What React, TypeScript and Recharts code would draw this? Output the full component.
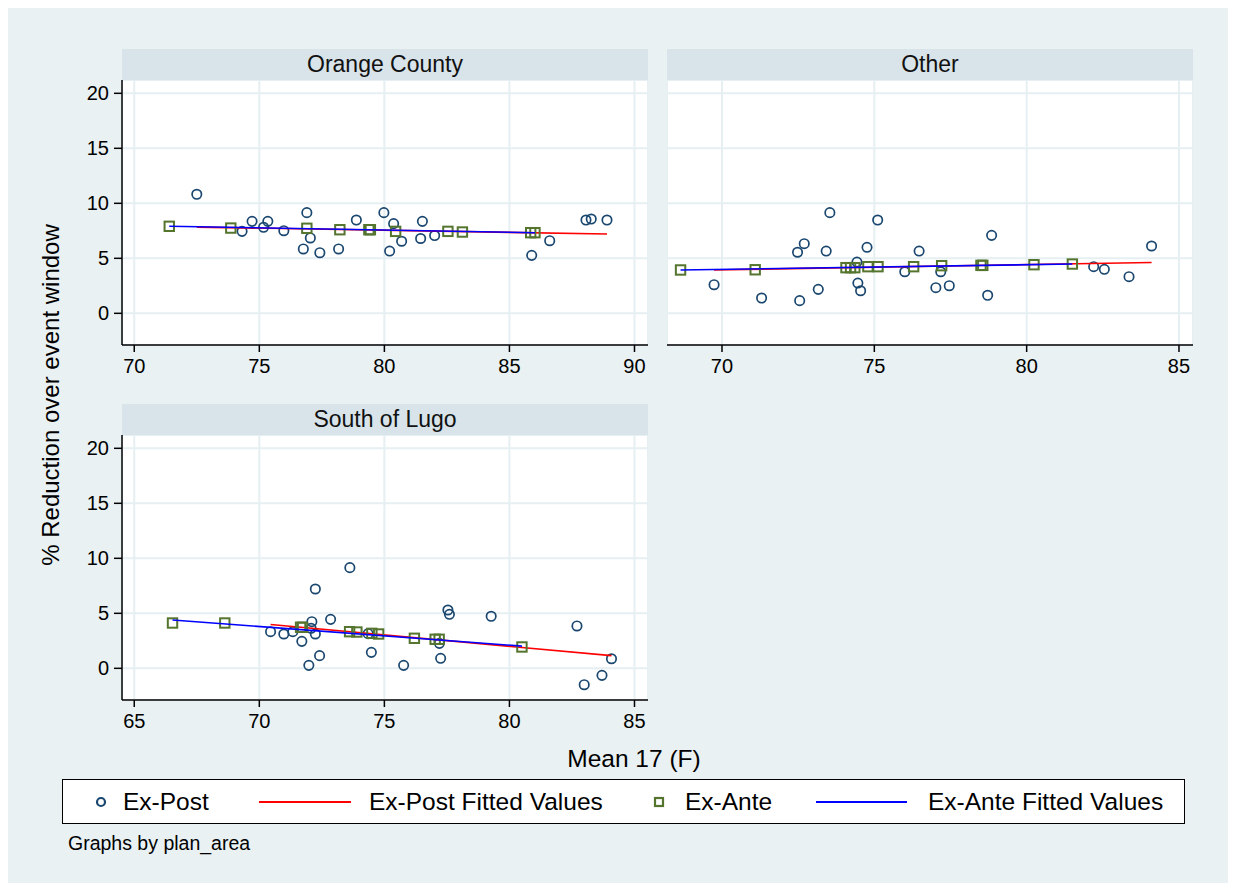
import React from "react";
import { ScatterChart, Scatter, XAxis, YAxis, CartesianGrid } from "recharts";

const FONT = "'Liberation Sans', Arial, Helvetica, sans-serif";

// [mean 17 temp, % reduction]
const orangePost = [
  [72.5, 10.82], [74.31, 7.45], [74.71, 8.36], [75.17, 7.82], [75.34, 8.36],
  [75.98, 7.51], [76.76, 5.85], [76.9, 9.15], [77.04, 6.85], [77.42, 5.51],
  [78.17, 5.85], [78.88, 8.48], [79.98, 9.15], [80.21, 5.66], [80.37, 8.15],
  [80.69, 6.55], [81.45, 6.8], [81.52, 8.36], [82.01, 7.07], [85.89, 5.27],
  [86.61, 6.6], [88.06, 8.48], [88.27, 8.57], [88.9, 8.48],
];
const orangeAnte = [
  [71.4, 7.91], [73.86, 7.75], [76.9, 7.73], [78.22, 7.6], [79.38, 7.6],
  [79.44, 7.6], [80.45, 7.45], [82.54, 7.45], [83.12, 7.39], [85.85, 7.33],
  [86.02, 7.33],
];
const orangePostFit = [[72.5, 7.84], [88.9, 7.21]];
const orangeAnteFit = [[71.4, 7.91], [86.02, 7.33]];

const otherPost = [
  [69.74, 2.6], [71.3, 1.39], [72.48, 5.55], [72.55, 1.15], [72.7, 6.33],
  [73.16, 2.18], [73.42, 5.66], [73.54, 9.15], [74.43, 4.66], [74.46, 2.75],
  [74.55, 2.05], [74.76, 6.0], [75.11, 8.48], [76.0, 3.78], [76.47, 5.66],
  [77.02, 2.33], [77.18, 3.78], [77.46, 2.51], [78.72, 1.64], [78.85, 7.09],
  [82.2, 4.24], [82.55, 4.0], [83.36, 3.33], [84.1, 6.12],
];
const otherAnte = [
  [68.64, 3.94], [71.09, 3.96], [74.07, 4.15], [74.22, 4.15], [74.36, 4.15],
  [74.79, 4.24], [75.12, 4.24], [76.29, 4.24], [77.21, 4.33], [78.5, 4.36],
  [78.56, 4.36], [80.24, 4.42], [81.5, 4.48],
];
const otherPostFit = [[69.74, 3.94], [84.1, 4.62]];
const otherAnteFit = [[68.64, 3.94], [81.5, 4.48]];

const lugoPost = [
  [70.45, 3.33], [70.98, 3.12], [71.34, 3.33], [71.7, 2.45], [71.98, 0.27],
  [72.07, 3.64], [72.1, 4.24], [72.24, 7.21], [72.24, 3.12], [72.41, 1.15],
  [72.85, 4.45], [73.62, 9.15], [74.35, 3.15], [74.48, 1.45], [75.77, 0.27],
  [77.2, 2.27], [77.25, 0.91], [77.54, 5.3], [77.6, 4.91], [79.27, 4.73],
  [82.7, 3.85], [82.99, -1.49], [83.7, -0.64], [84.08, 0.87],
];
const lugoAnte = [
  [66.53, 4.12], [68.62, 4.12], [71.65, 3.73], [71.73, 3.73], [73.61, 3.33],
  [73.9, 3.3], [74.5, 3.18], [74.77, 3.12], [76.2, 2.73], [77.03, 2.64],
  [77.19, 2.64], [80.5, 1.94],
];
const lugoPostFit = [[70.45, 3.99], [84.08, 1.15]];
const lugoAnteFit = [[66.53, 4.39], [80.5, 2.02]];

const yTicks = [0, 5, 10, 15, 20];
const orangeTicks = [70, 75, 80, 85, 90];
const otherTicks = [70, 75, 80, 85];
const lugoTicks = [65, 70, 75, 80, 85];

const toPts = (arr: number[][]) => arr.map(([x, y]) => ({ x, y }));

const PostMarker = (p: any) => (
  <circle cx={p.cx} cy={p.cy} r={4.7} fill="none" stroke="#1a476f" strokeWidth={1.7} />
);
const AnteMarker = (p: any) => (
  <rect x={p.cx - 4.7} y={p.cy - 4.7} width={9.4} height={9.4} fill="none" stroke="#55752f" strokeWidth={2} />
);
const NoMarker = () => <g />;

const PLOT_W = 526;
const PLOT_H = 265;
const Y_W = 70;
const X_H = 42;

interface PanelProps {
  title: string;
  left: number;
  top: number;
  xDomain: [number, number];
  xTicks: number[];
  showY: boolean;
  post: number[][];
  ante: number[][];
  postFit: number[][];
  anteFit: number[][];
}

function Panel({ title, left, top, xDomain, xTicks, showY, post, ante, postFit, anteFit }: PanelProps) {
  const yw = showY ? Y_W : 0;
  const tickStyle = { fill: "#000", fontSize: 20, fontFamily: FONT };
  return (
    <>
      <div
        style={{
          position: "absolute",
          left,
          top: top - 31,
          width: PLOT_W,
          height: 31,
          background: "#d8e4ea",
          display: "flex",
          alignItems: "center",
          justifyContent: "center",
          fontFamily: FONT,
          fontSize: 23,
          color: "#111",
        }}
      >
        {title}
      </div>
      <div style={{ position: "absolute", left: left - yw, top }}>
        <ScatterChart width={PLOT_W + yw} height={PLOT_H + X_H} margin={{ top: 0, right: 0, bottom: 0, left: 0 }}>
          <CartesianGrid fill="#fff" stroke="#e6eff2" strokeWidth={2} />
          <XAxis
            type="number"
            dataKey="x"
            domain={xDomain}
            ticks={xTicks}
            allowDataOverflow
            height={X_H}
            tickSize={7}
            tickMargin={7}
            tick={tickStyle}
            axisLine={{ stroke: "#000", strokeWidth: 1.5 }}
            tickLine={{ stroke: "#000", strokeWidth: 1.5 }}
          />
          <YAxis
            type="number"
            dataKey="y"
            domain={[-2.88, 21.21]}
            ticks={yTicks}
            allowDataOverflow
            hide={!showY}
            width={Y_W}
            tickSize={8}
            tickMargin={5}
            tick={tickStyle}
            axisLine={{ stroke: "#000", strokeWidth: 1.5 }}
            tickLine={{ stroke: "#000", strokeWidth: 1.5 }}
          />
          <Scatter data={toPts(post)} shape={PostMarker} isAnimationActive={false} />
          <Scatter
            data={toPts(postFit)}
            shape={NoMarker}
            line={{ stroke: "#ff0000", strokeWidth: 1.6 }}
            isAnimationActive={false}
          />
          <Scatter data={toPts(ante)} shape={AnteMarker} isAnimationActive={false} />
          <Scatter
            data={toPts(anteFit)}
            shape={NoMarker}
            line={{ stroke: "#0000ff", strokeWidth: 1.6 }}
            isAnimationActive={false}
          />
        </ScatterChart>
      </div>
    </>
  );
}

const legendText: React.CSSProperties = {
  position: "absolute",
  top: 0,
  height: 43,
  lineHeight: "43px",
  fontSize: 24.5,
  fontFamily: FONT,
  color: "#000",
  whiteSpace: "nowrap",
};

export default function App() {
  return (
    <div style={{ position: "relative", width: 1220, height: 875, background: "#e9f1f3", fontFamily: FONT }}>
      <Panel
        title="Orange County"
        left={114}
        top={72}
        xDomain={[69.51, 90.54]}
        xTicks={orangeTicks}
        showY
        post={orangePost}
        ante={orangeAnte}
        postFit={orangePostFit}
        anteFit={orangeAnteFit}
      />
      <Panel
        title="Other"
        left={659}
        top={72}
        xDomain={[68.195, 85.46]}
        xTicks={otherTicks}
        showY={false}
        post={otherPost}
        ante={otherAnte}
        postFit={otherPostFit}
        anteFit={otherAnteFit}
      />
      <Panel
        title="South of Lugo"
        left={114}
        top={427}
        xDomain={[64.51, 85.54]}
        xTicks={lugoTicks}
        showY
        post={lugoPost}
        ante={lugoAnte}
        postFit={lugoPostFit}
        anteFit={lugoAnteFit}
      />

      <div
        style={{
          position: "absolute",
          left: 43,
          top: 387,
          transform: "translate(-50%, -50%) rotate(-90deg)",
          fontSize: 24,
          whiteSpace: "nowrap",
          color: "#000",
        }}
      >
        % Reduction over event window
      </div>
      <div
        style={{
          position: "absolute",
          left: 626,
          top: 751,
          transform: "translate(-50%, -50%)",
          fontSize: 24.5,
          whiteSpace: "nowrap",
          color: "#000",
        }}
      >
        Mean 17 (F)
      </div>

      <div
        style={{
          position: "absolute",
          left: 54,
          top: 771,
          width: 1123,
          height: 45,
          background: "#fff",
          border: "1.5px solid #000",
          boxSizing: "border-box",
        }}
      >
        <svg width={1120} height={42} style={{ position: "absolute", left: 0, top: 0 }}>
          <circle cx={38} cy={22} r={4} fill="none" stroke="#1a476f" strokeWidth={2.2} />
          <line x1={196} y1={22} x2={288} y2={22} stroke="#ff0000" strokeWidth={2} />
          <rect x={592} y={18} width={8} height={8} fill="none" stroke="#55752f" strokeWidth={2.2} />
          <line x1={753} y1={22} x2={844} y2={22} stroke="#0000ff" strokeWidth={2} />
        </svg>
        <span style={{ ...legendText, left: 60 }}>Ex-Post</span>
        <span style={{ ...legendText, left: 306 }}>Ex-Post Fitted Values</span>
        <span style={{ ...legendText, left: 622 }}>Ex-Ante</span>
        <span style={{ ...legendText, left: 865 }}>Ex-Ante Fitted Values</span>
      </div>

      <div style={{ position: "absolute", left: 60, top: 824, fontSize: 19.5, color: "#000" }}>
        Graphs by plan_area
      </div>
    </div>
  );
}
